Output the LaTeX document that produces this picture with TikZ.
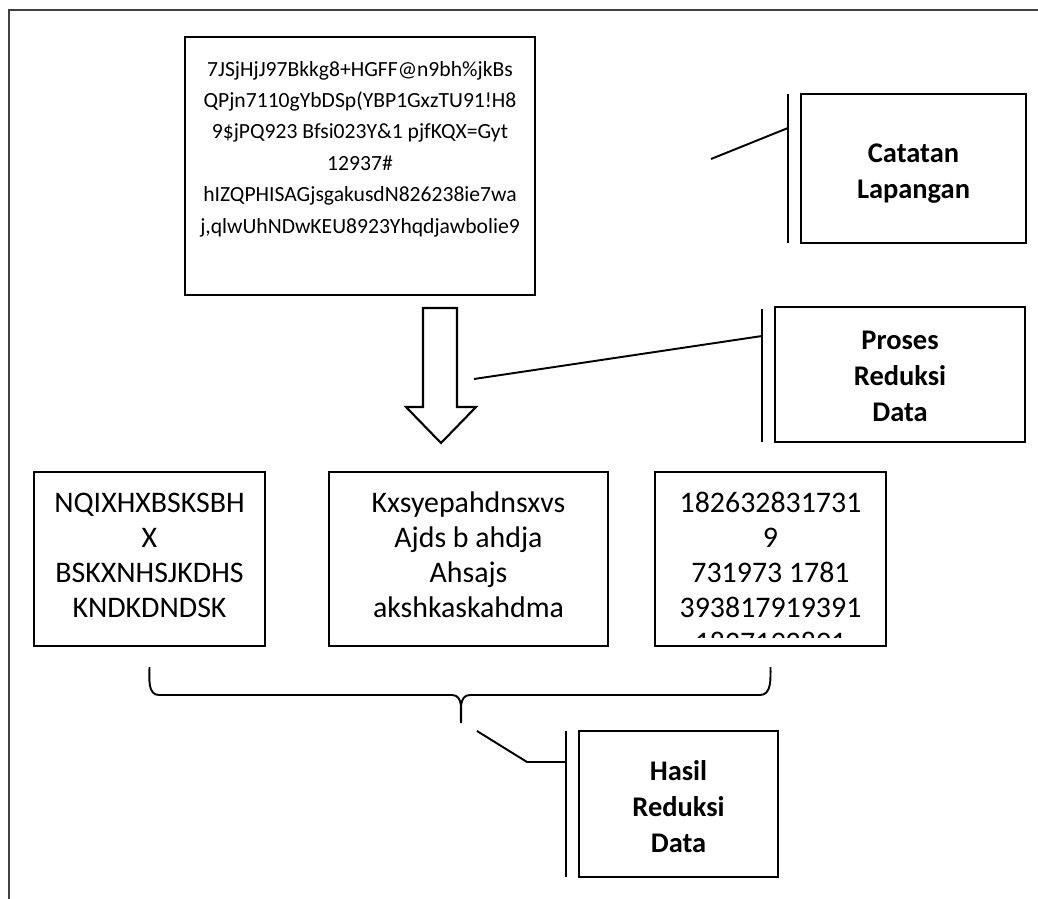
\documentclass[tikz,border=0pt]{standalone}
\usepackage{fontspec}
\setmainfont{Carlito}
\usetikzlibrary{calc}

\begin{document}
\begin{tikzpicture}[x=.02cm,y=-.02cm,
	box/.style={draw,line width=.8pt,inner sep=0pt},
	bar/.style={line width=1.1pt},
	txt/.style={align=center,inner sep=0pt},
	small/.style={txt,font=\fontsize{12.3}{17.9}\selectfont},
	big/.style={txt,font=\fontsize{17}{19.9}\selectfont},
	lbl/.style={txt,font=\fontsize{16.2}{20.5}\selectfont\bfseries}]
	\useasboundingbox (0,0) rectangle (1038,899);
	\draw[line width=.9pt,black!75] (1038,10) -- (9,10) -- (9,899);
	% boxes
	\node[box,minimum width=7cm,minimum height=5.16cm] (notes) at (360,166) {};
	\node[box,minimum width=4.5cm,minimum height=2.98cm] (catatan) at (913.5,168.5) {};
	\node[box,minimum width=5cm,minimum height=2.7cm] (proses) at (900,374.5) {};
	\node[box,minimum width=4.62cm,minimum height=3.48cm] (r1) at (149.5,559) {};
	\node[box,minimum width=5.58cm,minimum height=3.48cm] (r2) at (468.5,559) {};
	\node[box,minimum width=4.62cm,minimum height=3.48cm] (r3) at (770.5,559) {};
	\node[box,minimum width=3.98cm,minimum height=2.92cm] (hasil) at (678.5,804) {};
	% texts
	\node[small] at ($(notes)+(0,-17)$) {7JSjHjJ97Bkkg8+HGFF@n9bh\%jkBs\\QPjn7110gYbDSp(YBP1GxzTU91!H8\\9\$jPQ923 Bfsi023Y\&1 pjfKQX=Gyt\\12937\#\\hIZQPHISAGjsgakusdN826238ie7wa\\j,qlwUhNDwKEU8923Yhqdjawbolie9};
	\node[lbl] at ($(catatan)+(0,5)$) {Catatan\\Lapangan};
	\node[lbl] at ($(proses)+(0,2)$) {Proses\\Reduksi\\Data};
	\node[lbl] at ($(hasil)+(0,3)$) {Hasil\\Reduksi\\Data};
	\node[big] at ($(r1)+(0,-4)$) {NQIXHXBSKSBH\\X\\BSKXNHSJKDHS\\KNDKDNDSK};
	\node[big] at ($(r2)+(0,-4)$) {Kxsyepahdnsxvs\\Ajds b ahdja\\Ahsajs\\akshkaskahdma};
	\begin{scope}
		\clip (655,472) rectangle (886,637);
		\node[big] at ($(r3)+(0,13)$) {182632831731\\9\\731973 1781\\393817919391\\1827192891};
	\end{scope}
	% bars and connectors
	\draw[bar] (788,94) coordinate (c1) -- (788,243);
	\draw[bar] (762,309) coordinate (p1) -- (762,442);
	\draw[bar] (566,731) coordinate (h1) -- (566,877);
	\coordinate (c2) at (788,128);
	\coordinate (p2) at (762,336);
	\coordinate (h2) at (566,762);
	\draw[bar] (711,159) coordinate (c0) -- (c2);
	\draw[bar] (474,379) coordinate (p0) -- (p2);
	\draw[bar] (477,731) coordinate (h0) -- (527,762) -- (h2);
	% arrow
	\draw[line width=1.2pt] (423,308) -- (457,308) -- (457,407) -- (476,407) -- (441,443) -- (406,407) -- (423,407) -- cycle;
	% brace
	\draw[line width=1.1pt] (r1.south |- 0,667) to[out=-90,in=180] (159,695) -- (452,695) to[out=0,in=90] (461,723)
		(461,723) to[out=90,in=180] (470,695) -- (760,695) to[out=0,in=-90] (r3.south |- 0,667);
\end{tikzpicture}
\end{document}
